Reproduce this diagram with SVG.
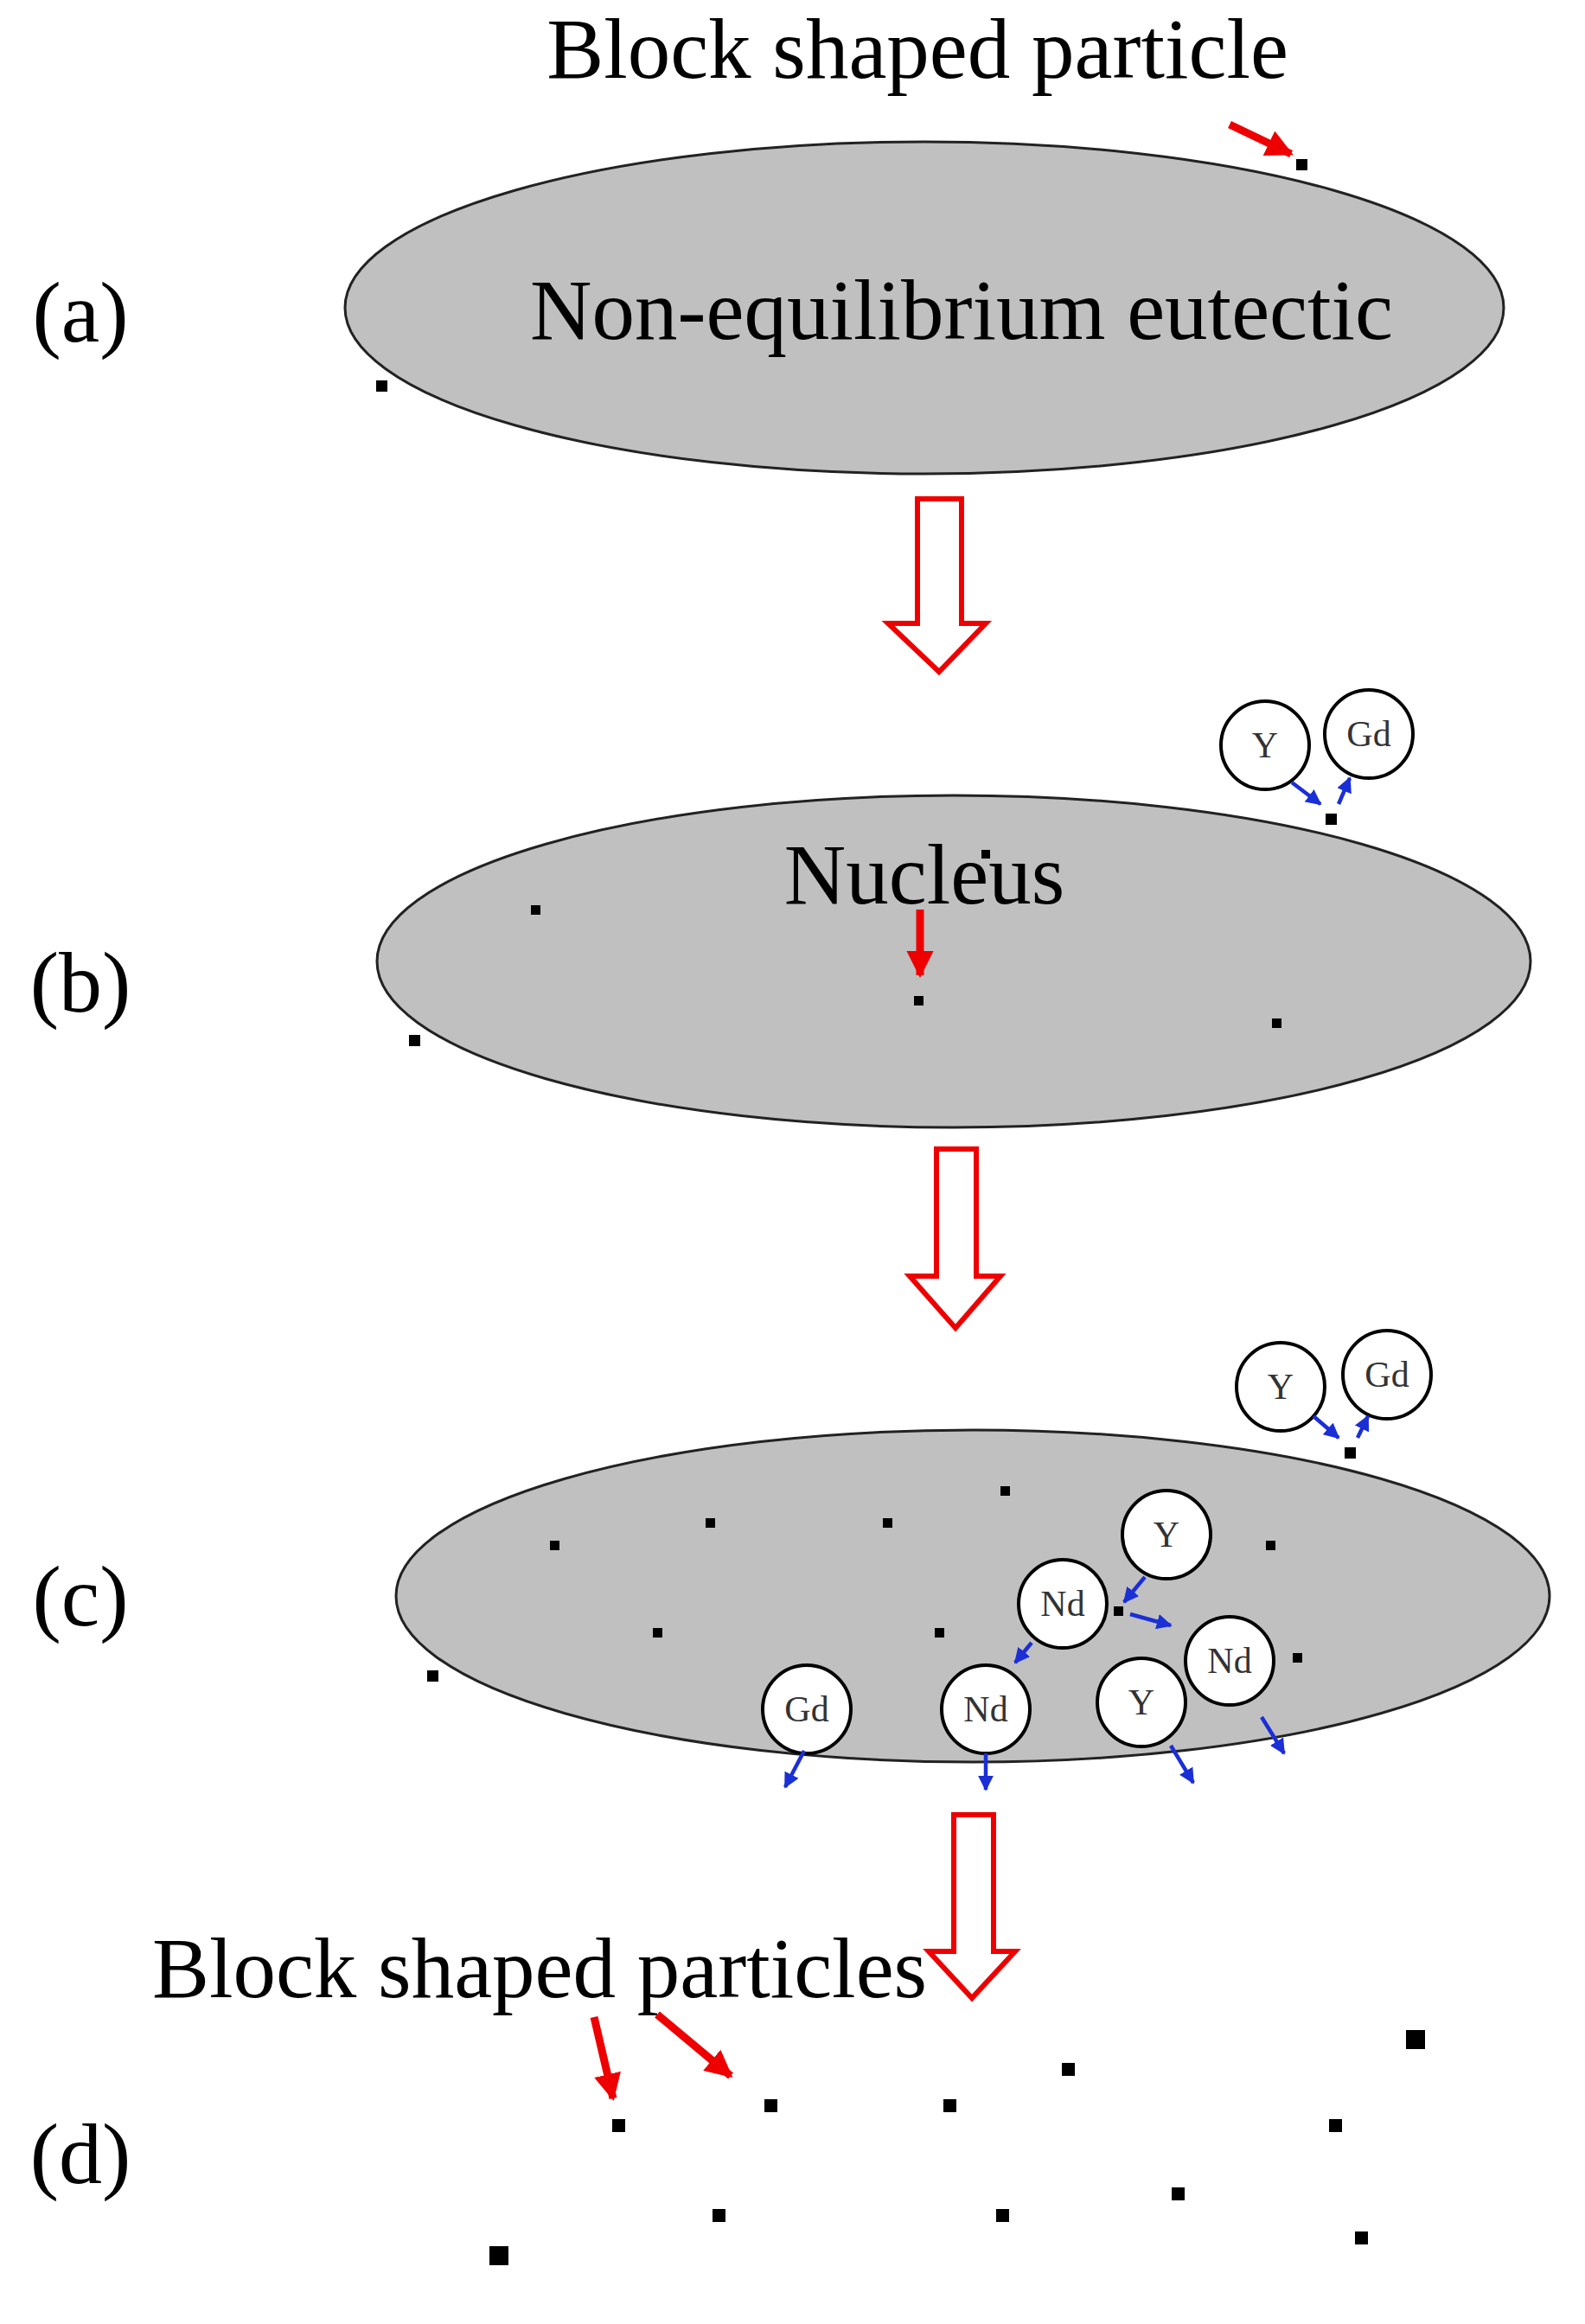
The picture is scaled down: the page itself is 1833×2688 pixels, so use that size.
<svg xmlns="http://www.w3.org/2000/svg" width="1833" height="2688" viewBox="0 0 1833 2688">
<defs>
<style>
.t{font-family:"Liberation Serif",serif;fill:#000}
.big{font-size:99px}
.lab{font-size:100px}
.el{fill:#c0c0c0;stroke:#222;stroke-width:3}
.c{fill:#fff;stroke:#000;stroke-width:4}
.ct{font-family:"Liberation Serif",serif;font-size:42px;fill:#333;text-anchor:middle}
.p{fill:#000}
.red{stroke:#e00;stroke-width:9;fill:none}
.blue{stroke:#1a2fd6;stroke-width:4.5;fill:none}
.hollow{fill:#fff;stroke:#e00;stroke-width:6}
</style>
<marker id="rh" viewBox="0 0 10 10" refX="9" refY="5" markerWidth="3.5" markerHeight="3.5" orient="auto"><path d="M0,0L10,5L0,10z" fill="#e00"/></marker>
<marker id="bh" viewBox="0 0 10 10" refX="9" refY="5" markerWidth="4" markerHeight="4" orient="auto"><path d="M0,0L10,5L0,10z" fill="#1a2fd6"/></marker>
</defs>
<rect width="1833" height="2688" fill="#fff"/>

<g id="a">
<text class="t lab" x="93" y="395" text-anchor="middle">(a)</text>
<ellipse class="el" cx="1069" cy="356" rx="670" ry="192"/>
<text class="t big" x="1112" y="392" text-anchor="middle">Non-equilibrium eutectic</text>
<text class="t big" x="1061" y="90" text-anchor="middle">Block shaped particle</text>
<rect class="p" x="1499" y="184" width="13" height="13"/>
<rect class="p" x="435" y="440" width="13" height="13"/>
</g>

<g id="b">
<text class="t lab" x="93" y="1170" text-anchor="middle">(b)</text>
<ellipse class="el" cx="1103" cy="1112" rx="667" ry="192"/>
<text class="t big" x="1069" y="1045" text-anchor="middle">Nucleus</text>
<circle class="c" cx="1463" cy="862" r="51"/><text class="ct" x="1463" y="876">Y</text>
<circle class="c" cx="1583" cy="849" r="51"/><text class="ct" x="1583" y="863">Gd</text>
<rect class="p" x="1533" y="941" width="13" height="13"/>
<rect class="p" x="1135" y="983" width="10" height="10"/>
<rect class="p" x="614" y="1047" width="11" height="11"/>
<rect class="p" x="1057" y="1152" width="11" height="11"/>
<rect class="p" x="1471" y="1178" width="11" height="11"/>
<rect class="p" x="473" y="1197" width="13" height="13"/>
</g>

<g id="c">
<text class="t lab" x="93" y="1880" text-anchor="middle">(c)</text>
<ellipse class="el" cx="1125" cy="1846" rx="667" ry="192"/>
<circle class="c" cx="1481" cy="1604" r="51"/><text class="ct" x="1481" y="1618">Y</text>
<circle class="c" cx="1604" cy="1590" r="51"/><text class="ct" x="1604" y="1604">Gd</text>
<rect class="p" x="1555" y="1674" width="13" height="13"/>
<circle class="c" cx="1349" cy="1775" r="51"/><text class="ct" x="1349" y="1789">Y</text>
<circle class="c" cx="1229" cy="1855" r="51"/><text class="ct" x="1229" y="1869">Nd</text>
<circle class="c" cx="1422" cy="1921" r="51"/><text class="ct" x="1422" y="1935">Nd</text>
<circle class="c" cx="933" cy="1977" r="51"/><text class="ct" x="933" y="1991">Gd</text>
<circle class="c" cx="1140" cy="1977" r="51"/><text class="ct" x="1140" y="1991">Nd</text>
<circle class="c" cx="1320" cy="1969" r="51"/><text class="ct" x="1320" y="1983">Y</text>
<rect class="p" x="636" y="1782" width="11" height="11"/>
<rect class="p" x="816" y="1756" width="11" height="11"/>
<rect class="p" x="1021" y="1756" width="11" height="11"/>
<rect class="p" x="1157" y="1719" width="11" height="11"/>
<rect class="p" x="1464" y="1782" width="11" height="11"/>
<rect class="p" x="755" y="1883" width="11" height="11"/>
<rect class="p" x="1081" y="1883" width="11" height="11"/>
<rect class="p" x="1288" y="1858" width="11" height="11"/>
<rect class="p" x="1495" y="1912" width="11" height="11"/>
<rect class="p" x="494" y="1932" width="13" height="13"/>
</g>

<g id="d">
<text class="t lab" x="93" y="2525" text-anchor="middle">(d)</text>
<text class="t big" x="624" y="2310" text-anchor="middle">Block shaped particles</text>
<rect class="p" x="708" y="2451" width="15" height="15"/>
<rect class="p" x="884" y="2428" width="15" height="15"/>
<rect class="p" x="1091" y="2428" width="15" height="15"/>
<rect class="p" x="1228" y="2386" width="15" height="15"/>
<rect class="p" x="1626" y="2348" width="22" height="22"/>
<rect class="p" x="1537" y="2451" width="15" height="15"/>
<rect class="p" x="824" y="2555" width="15" height="15"/>
<rect class="p" x="1152" y="2555" width="15" height="15"/>
<rect class="p" x="1355" y="2530" width="15" height="15"/>
<rect class="p" x="1567" y="2581" width="15" height="15"/>
<rect class="p" x="566" y="2598" width="22" height="22"/>
</g>

<g id="connectors">
<path class="hollow" d="M1061,577H1112V721H1140L1086,777L1027,721H1061Z"/>
<path class="hollow" d="M1083,1329H1129V1476H1157L1105,1536L1052,1476H1083Z"/>
<path class="hollow" d="M1103,2099H1149V2257H1174L1124,2311L1074,2257H1103Z"/>
<line class="red" x1="1422" y1="144" x2="1493" y2="178" marker-end="url(#rh)"/>
<line class="red" x1="1064" y1="1052" x2="1064" y2="1128" marker-end="url(#rh)"/>
<line class="red" x1="687" y1="2333" x2="709" y2="2427" marker-end="url(#rh)"/>
<line class="red" x1="760" y1="2330" x2="845" y2="2401" marker-end="url(#rh)"/>
<line class="blue" x1="1494" y1="905" x2="1527" y2="930" marker-end="url(#bh)"/>
<line class="blue" x1="1548" y1="930" x2="1561" y2="900" marker-end="url(#bh)"/>
<line class="blue" x1="1519" y1="1638" x2="1548" y2="1663" marker-end="url(#bh)"/>
<line class="blue" x1="1570" y1="1663" x2="1582" y2="1638" marker-end="url(#bh)"/>
<line class="blue" x1="1324" y1="1824" x2="1300" y2="1853" marker-end="url(#bh)"/>
<line class="blue" x1="1307" y1="1867" x2="1354" y2="1880" marker-end="url(#bh)"/>
<line class="blue" x1="1193" y1="1900" x2="1174" y2="1923" marker-end="url(#bh)"/>
<line class="blue" x1="930" y1="2025" x2="908" y2="2067" marker-end="url(#bh)"/>
<line class="blue" x1="1140" y1="2028" x2="1140" y2="2070" marker-end="url(#bh)"/>
<line class="blue" x1="1354" y1="2019" x2="1380" y2="2062" marker-end="url(#bh)"/>
<line class="blue" x1="1459" y1="1986" x2="1485" y2="2028" marker-end="url(#bh)"/>
</g>
</svg>
